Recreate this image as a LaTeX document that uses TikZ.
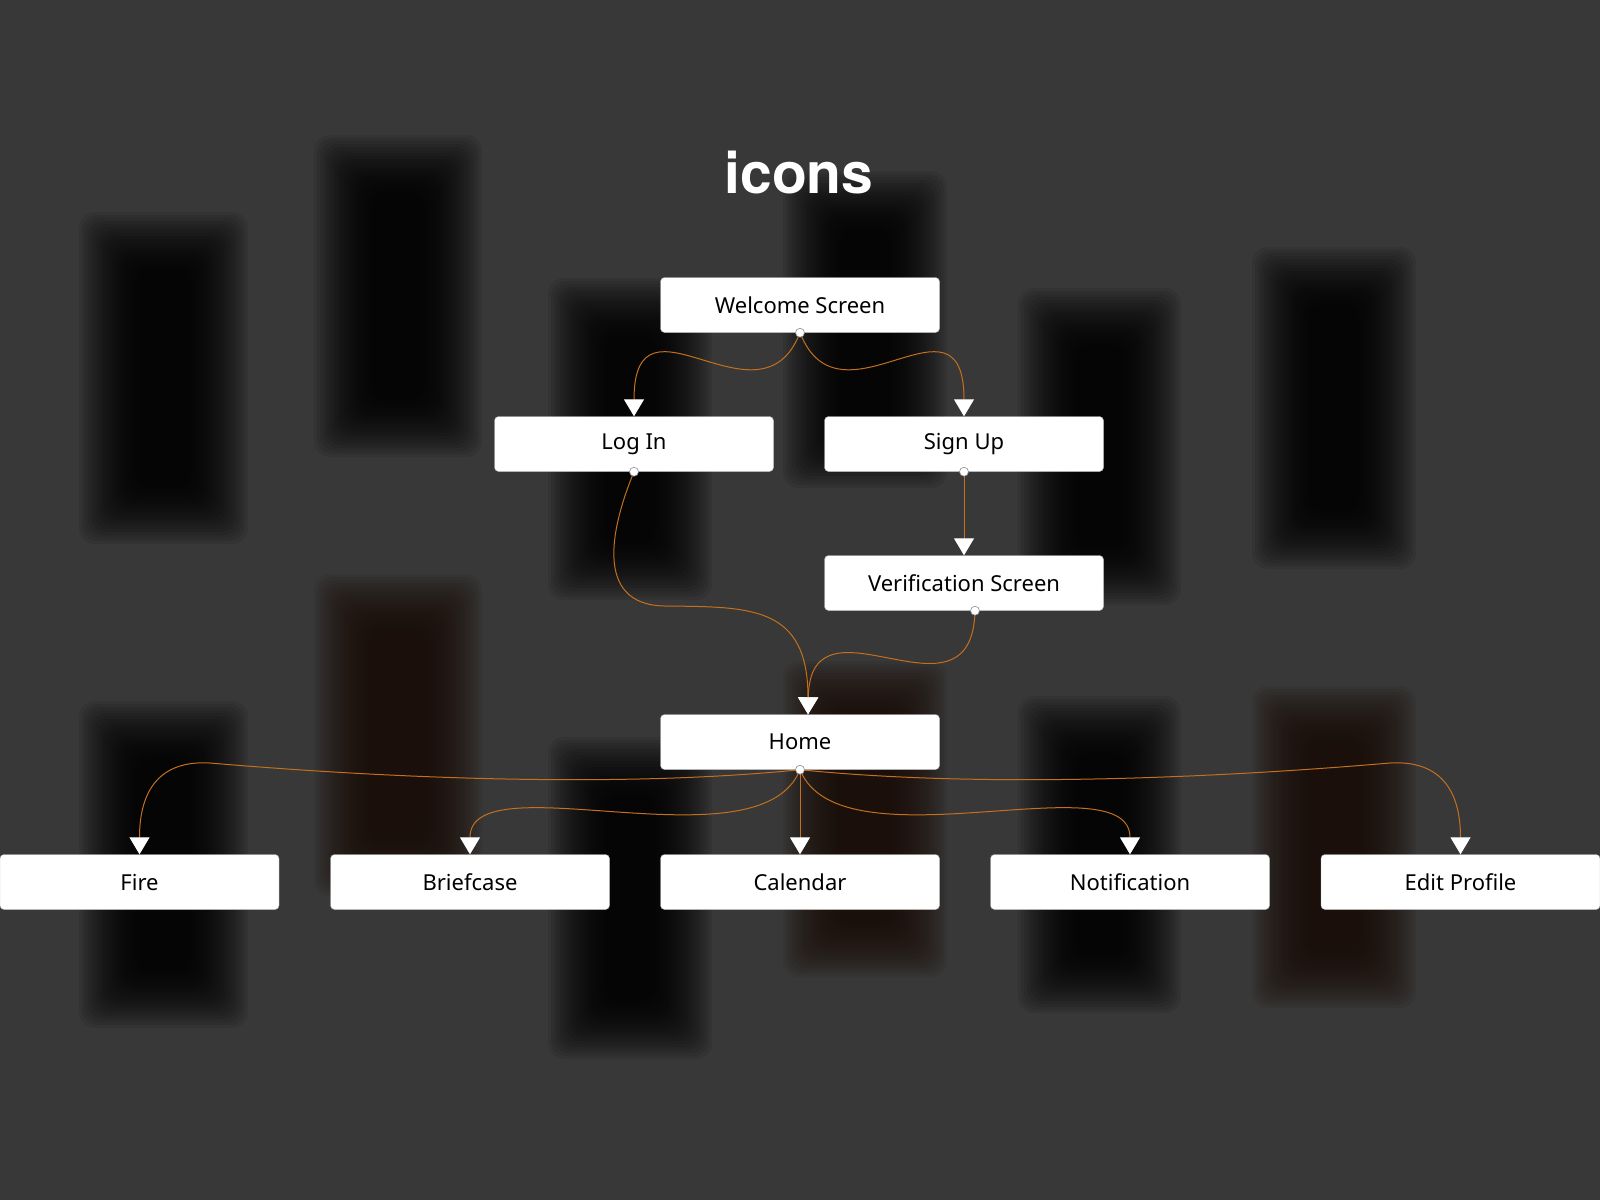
\documentclass[tikz,border=0pt]{standalone}
\usepackage{fontspec}
\setmainfont{Noto Sans}
\newfontfamily\titlefont{TeX Gyre Heros}
\usetikzlibrary{arrows.meta,calc}

\definecolor{canvas}{RGB}{56,56,56}
\definecolor{noodle}{RGB}{196,112,30}
\definecolor{ember}{RGB}{26,12,6}

% blurred phone frame in the back
\newcommand{\blurphone}[5]{%
  \foreach \e in {-39,-36,...,18}
    \fill[#5, opacity=.085, rounded corners=16pt] ({#1-(\e)},{#2-(\e)}) rectangle ({#3+\e},{#4+\e});}

\begin{document}
\begin{tikzpicture}[x=1pt, y=-1pt,
            screen/.style={draw=black!30, fill=white, rounded corners=4pt, minimum width=279pt,
                minimum height=55pt, inner sep=0pt, font=\fontsize{22}{26}\selectfont},
            flow/.style={draw=noodle, line width=1pt, -{Triangle[width=20pt,length=17pt,color=white]}},
            port/.style={fill=white, draw=black!45, line width=0.6pt}]
        \useasboundingbox[fill=canvas] (0,0) rectangle (1600,1200);

        % screenshots, blurred
        \blurphone{97}{230}{230}{526}{black}
        \blurphone{332}{153}{464}{439}{black}
        \blurphone{566}{296}{694}{582}{black}
        \blurphone{801}{189}{929}{470}{black}
        \blurphone{1036}{306}{1163}{587}{black}
        \blurphone{1270}{265}{1398}{551}{black}
        \blurphone{97}{719}{230}{1010}{black}
        \blurphone{332}{592}{464}{878}{ember}
        \blurphone{566}{755}{694}{1041}{black}
        \blurphone{801}{679}{929}{959}{ember}
        \blurphone{1036}{714}{1163}{995}{black}
        \blurphone{1270}{704}{1398}{990}{ember}

        \node[font=\titlefont\fontsize{57}{60}\selectfont\bfseries, text=white, anchor=base] (title) at (799,193) {icons};

        \node[screen] (welcome) at (800,305) {Welcome Screen};
        \node[screen] (login) at (634,444) {Log In};
        \node[screen] (signup) at (964,444) {Sign Up};
        \node[screen] (verify) at (964,583) {Verification Screen};
        \node[screen] (home) at (800,742) {Home};
        \node[screen] (fire) at (139.5,882) {Fire};
        \node[screen] (brief) at (470,882) {Briefcase};
        \node[screen] (cal) at (800,882) {Calendar};
        \node[screen] (notif) at (1130,882) {Notification};
        \node[screen] (edit) at (1460.5,882) {Edit Profile};

        \draw[flow] (welcome.south) .. controls (760,435) and (634,280) .. (login.north);
        \draw[flow] (welcome.south) .. controls (840,435) and (964,280) .. (signup.north);
        \draw[flow] (signup.south) -- (verify.north);
        \draw[flow] (login.south) .. controls (614,520) and (590,605) .. (665,606)
            .. controls (750,607) and (808,605) .. ([xshift=8pt]home.north);
        \draw[flow] ([xshift=11pt]verify.south) .. controls (972,735) and (810,585) .. ([xshift=8pt]home.north);

        \draw[flow] (home.south) .. controls (600,790) and (350,775) .. (210,763)
            .. controls (160,760) and (139.5,790) .. (fire.north);
        \draw[flow] (home.south) .. controls (760,870) and (470,760) .. (brief.north);
        \draw[flow] (home.south) -- (cal.north);
        \draw[flow] (home.south) .. controls (840,870) and (1130,760) .. (notif.north);
        \draw[flow] (home.south) .. controls (1000,790) and (1250,775) .. (1390,763)
            .. controls (1440,760) and (1460.5,790) .. (edit.north);

        % ports
        \foreach \p in {welcome.south, login.south, signup.south, home.south}
            \draw[port] (\p) circle (4.5pt);
        \draw[port] ([xshift=11pt]verify.south) circle (4.5pt);
\end{tikzpicture}
\end{document}
